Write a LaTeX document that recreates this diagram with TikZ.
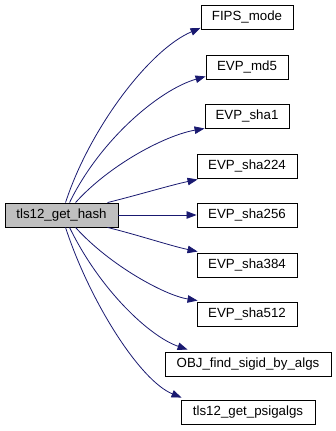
\documentclass[tikz,border=0pt]{standalone}
\usepackage{fontspec}
\setmainfont{Liberation Sans}
\usetikzlibrary{arrows.meta}
\definecolor{edgeblue}{HTML}{191970}
\definecolor{rootgray}{HTML}{BFBFBF}
\begin{document}
\begin{tikzpicture}[x=1pt,y=1pt,
  fn/.style={draw=black,line width=0.9pt,fill=white,minimum height=24pt,
    inner sep=0pt,font=\fontsize{13.3}{15}\selectfont},
  rootfn/.style={fn,fill=rootgray},
  call/.style={draw=edgeblue,line width=0.8pt,
    -{Triangle[length=10pt,width=7.5pt]},fill=none}]
\useasboundingbox (0,0) rectangle (335,-431);
% caller
\node[rootfn,minimum width=113pt] (root) at (61.5,-215) {tls12\_get\_hash};
% callees
\node[fn,minimum width=92pt]  (fips)   at (247,-17.5) {FIPS\_mode};
\node[fn,minimum width=82pt]  (md5)    at (247,-67)   {EVP\_md5};
\node[fn,minimum width=84pt]  (sha1)   at (247,-116)  {EVP\_sha1};
\node[fn,minimum width=100pt] (sha224) at (247,-166)  {EVP\_sha224};
\node[fn,minimum width=100pt] (sha256) at (247,-215)  {EVP\_sha256};
\node[fn,minimum width=100pt] (sha384) at (247,-265)  {EVP\_sha384};
\node[fn,minimum width=100pt] (sha512) at (247,-314)  {EVP\_sha512};
\node[fn,minimum width=166pt] (objfind) at (248,-364) {OBJ\_find\_sigid\_by\_algs};
\node[fn,minimum width=134pt] (psig)   at (248,-412)  {tls12\_get\_psigalgs};
% call edges
\draw[call] ([xshift=61pt]root.north west)
  to[out=72,in=203,out distance=77pt,in distance=56pt] ([yshift=2pt]fips.south west);
\draw[call] ([xshift=65pt]root.north west)
  to[out=64,in=196,out distance=70pt,in distance=48pt] ([yshift=3pt]md5.south west);
\draw[call] ([xshift=71pt]root.north west)
  to[out=48,in=190,out distance=51pt,in distance=40pt] (sha1.south west);
\draw[call] ([xshift=103pt]root.north west)
  to[out=14,in=192,out distance=33pt,in distance=28pt] ([xshift=1pt,yshift=-1pt]sha224.south west);
\draw[call] (root.east) -- (sha256.west);
\draw[call] ([xshift=103pt]root.south west)
  to[out=-14,in=168,out distance=33pt,in distance=28pt] ([xshift=1pt,yshift=1pt]sha384.north west);
\draw[call] ([xshift=71pt]root.south west)
  to[out=-48,in=171,out distance=51pt,in distance=33pt] ([xshift=1pt,yshift=1pt]sha512.north west);
\draw[call] ([xshift=65pt]root.south west)
  to[out=-64,in=161,out distance=70pt,in distance=40pt] ([xshift=23pt,yshift=2pt]objfind.north west);
\draw[call] ([xshift=61pt]root.south west)
  to[out=-72,in=158,out distance=77pt,in distance=45pt] ([xshift=1pt,yshift=2pt]psig.north west);
\end{tikzpicture}
\end{document}
